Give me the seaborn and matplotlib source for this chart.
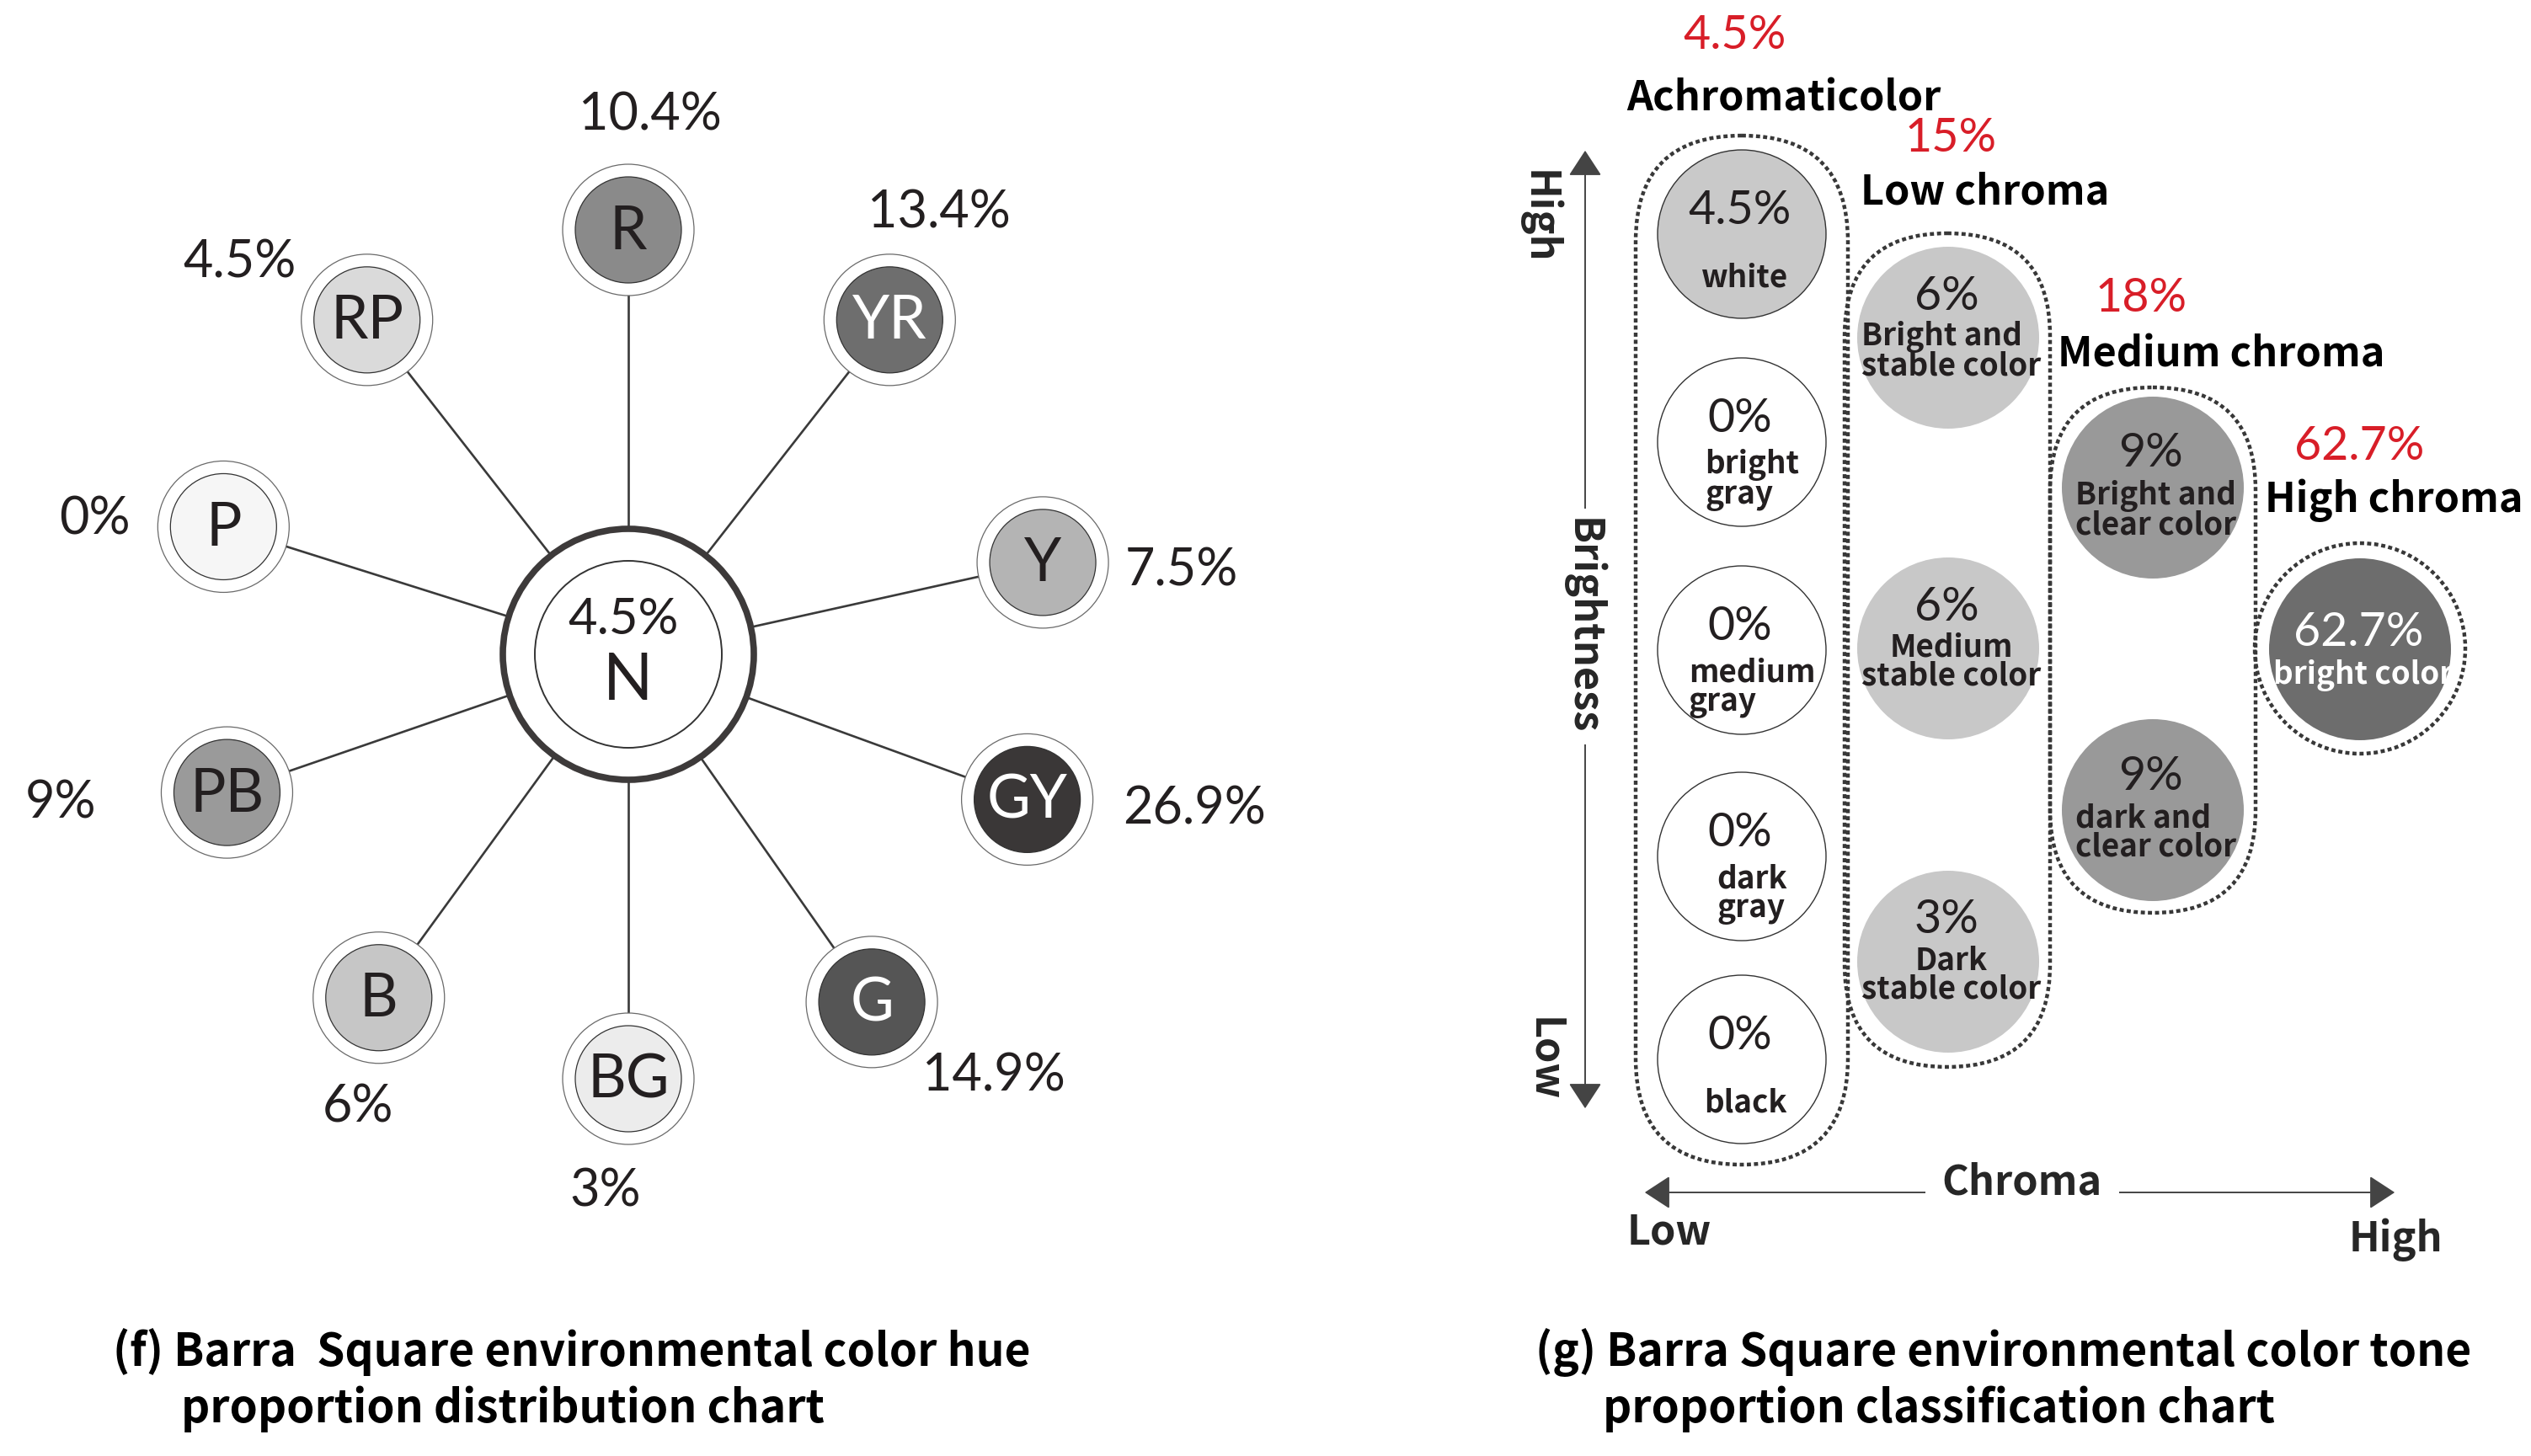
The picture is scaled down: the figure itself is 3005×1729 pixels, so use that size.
import numpy as np
import pandas as pd
import matplotlib
matplotlib.use("Agg")
import matplotlib.pyplot as plt
import seaborn as sns
from matplotlib.patches import Circle, FancyBboxPatch, FancyArrowPatch

# ---------------- data ----------------
hue_codes = ["R", "YR", "Y", "GY", "G", "BG", "B", "PB", "P", "RP"]
hue_share = [10.4, 13.4, 7.5, 26.9, 14.9, 3, 6, 9, 0, 4.5]
neutral_code = "N"
neutral_share = 4.5

tone_groups = ["Achromaticolor", "Low chroma", "Medium chroma", "High chroma"]
tone_group_share = [4.5, 15, 18, 62.7]
achromatic_tones = ["white", "bright\ngray", "medium\ngray", "dark\ngray", "black"]
achromatic_share = [4.5, 0, 0, 0, 0]
low_tones = ["Bright and\nstable color", "Medium\nstable color", "Dark\nstable color"]
low_share = [6, 6, 3]
medium_tones = ["Bright and\nclear color", "dark and\nclear color"]
medium_share = [9, 9]
high_tones = ["bright color"]
high_share = [62.7]

caption_f = ["(f) Barra  Square environmental color hue", "proportion distribution chart"]
caption_g = ["(g) Barra Square environmental color tone", "proportion classification chart"]
axis_words = {"bright": "Brightness", "chroma": "Chroma", "hi": "High", "lo": "Low"}

# ---------------- style / layout ----------------
hue_angle = [90, 52, 12.5, -20, -55, -90, -126, -161, 162.5, 128]
hue_fill = ["#8a8a8a", "#6e6e6e", "#b4b4b4", "#3a3737", "#555555",
            "#ececec", "#c6c6c6", "#9a9a9a", "#f6f6f6", "#dadada"]
hue_txt = ["#231f20", "white", "#231f20", "white", "white",
           "#231f20", "#231f20", "#231f20", "#231f20", "#231f20"]
lab_off = [(26, -136), (59, -127), (165, 10), (198, 12), (145, 88),
           (-27, 134), (-25, 130), (-197, 13), (-153, -8), (-151, -68)]
CX, CY, RAD = 746, 777, 504

THIN = ["Lato", "DejaVu Sans"]
BOLD = ["Noto Sans CJK JP", "DejaVu Sans"]
DARK = "#231f20"
RED = "#d81e28"

sns.set_theme(style="white")
plt.rcParams["font.family"] = ["Noto Sans CJK JP", "DejaVu Sans"]

fig = plt.figure(figsize=(30.05, 17.29), dpi=100)
ax = fig.add_axes([0, 0, 1, 1])
ax.set_xlim(0, 3005)
ax.set_ylim(1729, 0)
ax.axis("off")


def s_of(r):
    return (2 * r * 72 / 100) ** 2


def pct(v):
    return f"{v:g}%"


# ---------------- left: hue wheel ----------------
ang = np.deg2rad(hue_angle)
hue_df = pd.DataFrame({
    "code": hue_codes,
    "share": hue_share,
    "x": CX + RAD * np.cos(ang),
    "y": CY - RAD * np.sin(ang),
})

for _, r in hue_df.iterrows():
    ax.plot([CX, r.x], [CY, r.y], color="#3a3a3a", lw=1.9, zorder=1,
            solid_capstyle="butt")
    ax.add_patch(Circle((r.x, r.y), 78, facecolor="white", edgecolor="#6a6a6a",
                        lw=0.9, zorder=2))

sns.scatterplot(data=hue_df, x="x", y="y", hue="code",
                palette=dict(zip(hue_codes, hue_fill)), s=s_of(63),
                edgecolor="#333333", linewidth=0.9, legend=False, ax=ax, zorder=3)

for i, r in hue_df.iterrows():
    ax.text(r.x, r.y + 2, r.code, ha="center", va="center", fontsize=51,
            family=THIN, color=hue_txt[i], zorder=4)
    dx, dy = lab_off[i]
    ax.text(r.x + dx, r.y + dy, pct(r.share), ha="center", va="center",
            fontsize=44, family=THIN, color=DARK, zorder=4)

# centre N
ax.add_patch(Circle((CX, CY), 149, facecolor="white", edgecolor="#3d3a3a",
                    lw=5.5, zorder=2))
ax.add_patch(Circle((CX, CY), 111, facecolor="white", edgecolor="#333333",
                    lw=1.4, zorder=3))
ax.text(CX - 6, CY - 41, pct(neutral_share), ha="center", va="center", fontsize=43,
        family=THIN, color=DARK, zorder=4)
ax.text(CX, CY + 32, neutral_code, ha="center", va="center", fontsize=56,
        family=THIN, color=DARK, zorder=4)

# ---------------- right: tone classification ----------------
col_x = [2068, 2313, 2556, 2802]
rows = [[278, 525, 772, 1017, 1258], [401, 770, 1142], [579, 962], [771]]
tones = [achromatic_tones, low_tones, medium_tones, high_tones]
shares = [achromatic_share, low_share, medium_share, high_share]
pills = [(1942, 161, 252, 1222), (2190, 277, 244, 990), (2434, 460, 244, 624)]
fills = [None, "#c8c8c8", "#999999", "#6d6d6d"]
pct_dy = [-28, -49, -40, -20]
lab_dy = [45, 16, 27, 31]
title_pos = [(2060, 42, 2118, 117), (2316, 164, 2357, 228),
             (2542, 354, 2637, 421), (2801, 530, 2842, 594)]

DOT = (0, (1.1, 0.8))
for (x0, y0, w, h) in pills:
    ax.add_patch(FancyBboxPatch((x0, y0), w, h,
                                boxstyle=f"round,pad=0,rounding_size={w / 2}",
                                facecolor="none", edgecolor="#383838", lw=3.2,
                                linestyle=DOT, zorder=2))
ax.add_patch(Circle((2802, 770), 125, facecolor="none", edgecolor="#383838",
                    lw=3.2, linestyle=DOT, zorder=2))

for g, (px, py, tx, ty) in enumerate(title_pos):
    ax.text(px, py, pct(tone_group_share[g]), ha="center", va="center",
            fontsize=40, family=THIN, color=RED)
    ax.text(tx, ty, tone_groups[g], ha="center", va="center", fontsize=35,
            family=BOLD, fontweight="bold", color="black")

for g in range(4):
    df = pd.DataFrame({"tone": tones[g], "share": shares[g],
                       "x": [col_x[g]] * len(rows[g]), "y": rows[g]})
    if g == 0:
        face = ["#c9c9c9" if v > 0 else "white" for v in df.share]
        sns.scatterplot(data=df, x="x", y="y", hue="tone",
                        palette=dict(zip(df.tone, face)), s=s_of(100),
                        edgecolor="#333333", linewidth=1.0, legend=False,
                        ax=ax, zorder=3)
    else:
        sns.scatterplot(data=df, x="x", y="y", color=fills[g], s=s_of(108),
                        edgecolor="none", linewidth=0, legend=False, ax=ax,
                        zorder=3)
    tcol = "white" if g == 3 else DARK
    for _, r in df.iterrows():
        two = "\n" in r.tone
        ldy = lab_dy[g] if (two or g != 0) else 52
        malign = "left" if (g == 0 or " and" in r.tone) else "center"
        lx = r.x + (12 if (g == 0 and two) else 4)
        ax.text(r.x - 2, r.y + pct_dy[g], pct(r.share), ha="center", va="center",
                fontsize=40, family=THIN, color=tcol, zorder=4)
        ax.text(lx, r.y + ldy, r.tone, ha="center", va="center",
                multialignment=malign, fontsize=26.5, family=BOLD,
                fontweight="bold", color=tcol, linespacing=0.9, zorder=4)

# axes arrows
arrow_kw = dict(arrowstyle="<|-|>,head_length=0.95,head_width=0.62",
                mutation_scale=20, color="#444444", lw=1.4, zorder=1)
ax.add_patch(FancyArrowPatch((1882, 176), (1882, 1319), **arrow_kw))
ax.add_patch(FancyArrowPatch((1950, 1416), (2846, 1416), **arrow_kw))

wb = dict(facecolor="white", edgecolor="none", pad=8)
ax.text(1878, 744, axis_words["bright"], rotation=-90, ha="center", va="center",
        fontsize=35, family=BOLD, fontweight="bold", bbox=wb, zorder=3)
ax.text(1826, 258, axis_words["hi"], rotation=-90, ha="center", va="center",
        fontsize=35, family=BOLD, fontweight="bold")
ax.text(1834, 1258, axis_words["lo"], rotation=-90, ha="center", va="center",
        fontsize=35, family=BOLD, fontweight="bold")
ax.text(2401, 1404, axis_words["chroma"], ha="center", va="center",
        fontsize=35, family=BOLD, fontweight="bold",
        bbox=dict(facecolor="white", edgecolor="none", pad=14), zorder=3)
ax.text(1982, 1463, axis_words["lo"], ha="center", va="center",
        fontsize=35, family=BOLD, fontweight="bold")
ax.text(2844, 1472, axis_words["hi"], ha="center", va="center",
        fontsize=35, family=BOLD, fontweight="bold")

# captions
for (x1, x2, lines) in [(134, 215, caption_f), (1823, 1903, caption_g)]:
    ax.text(x1, 1606, lines[0], ha="left", va="center", fontsize=38.3,
            family=BOLD, fontweight="bold", color="black")
    ax.text(x2, 1673, lines[1], ha="left", va="center", fontsize=38.3,
            family=BOLD, fontweight="bold", color="black")

fig.savefig("out.png", dpi=100, facecolor="white")
